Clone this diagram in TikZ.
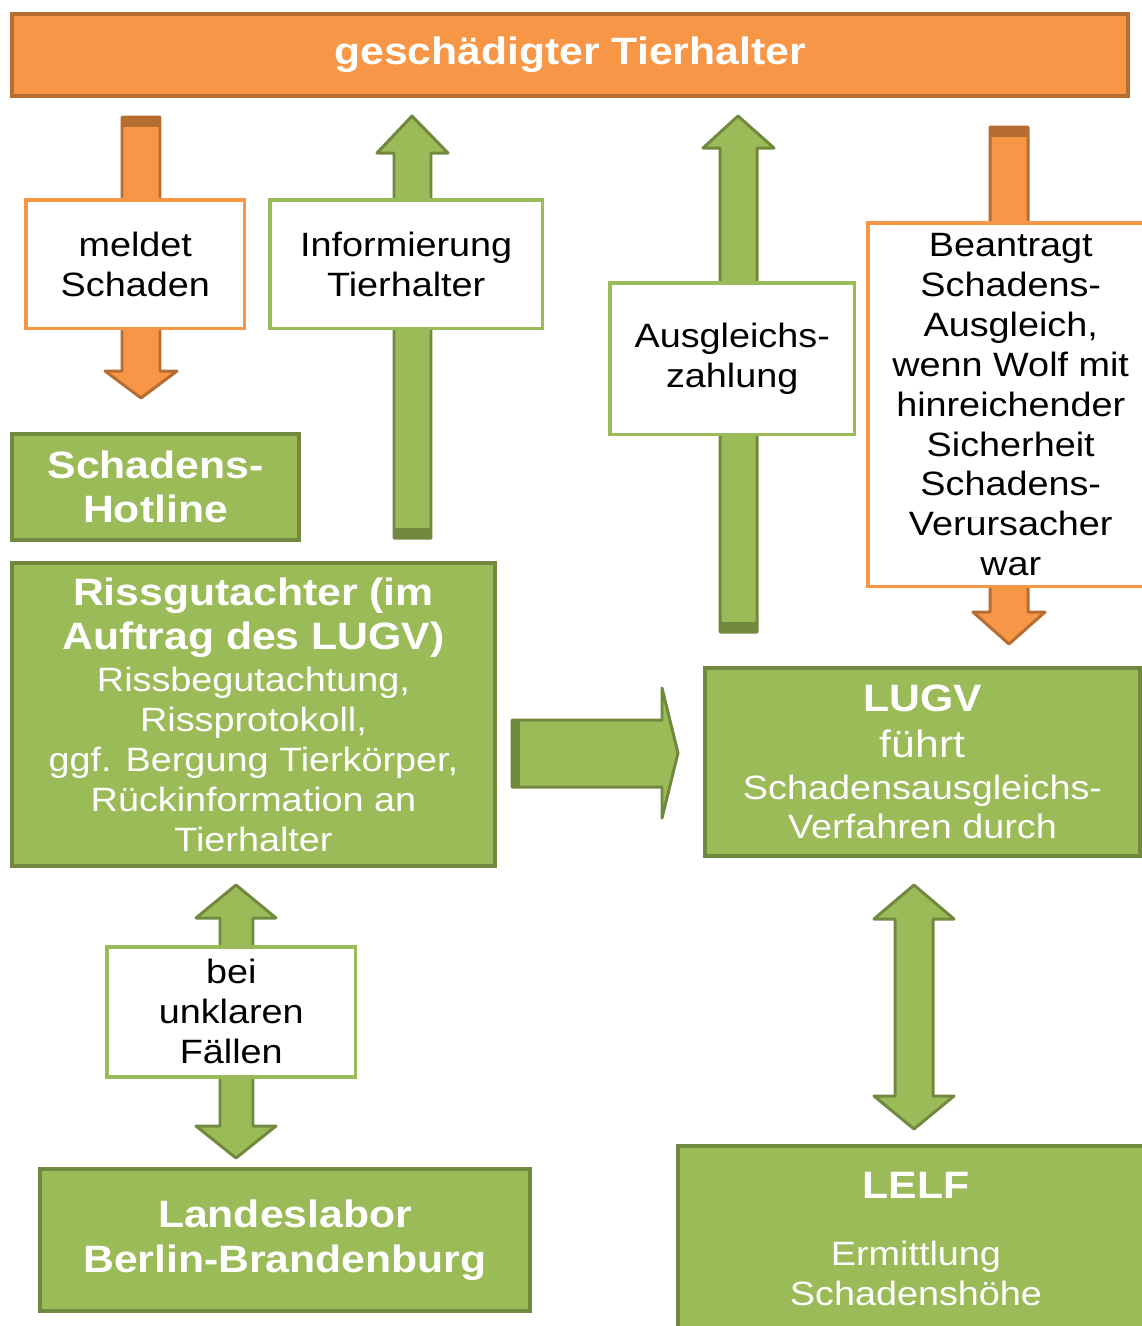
\documentclass[tikz,border=0pt]{standalone}
\usepackage{fontspec}
\setmainfont{Liberation Sans}[FakeStretch=1.12]
\usepackage{tikz}
\usetikzlibrary{positioning}

\definecolor{lugvorange}{HTML}{F79646}
\definecolor{lugvorangedark}{HTML}{B66D31}
\definecolor{lugvgreen}{HTML}{9BBB59}
\definecolor{lugvgreendark}{HTML}{71893F}

\newcommand{\regfont}{\fontsize{19.2}{22.7}\selectfont}
\newcommand{\bigfont}{\fontsize{21.7}{25.5}\selectfont\bfseries}

\tikzset{
  greenbox/.style={draw=lugvgreendark, fill=lugvgreen, line width=2.3pt, text=white,
    inner sep=0pt, align=center, anchor=north west},
  barbox/.style={draw=lugvorangedark, fill=lugvorange, line width=2.3pt, text=white,
    inner sep=0pt, align=center, anchor=north west},
  labelbox/.style={fill=white, line width=2pt, inner sep=0pt, align=center, anchor=north west},
  garrow/.style={fill=lugvgreen, draw=lugvgreendark, line width=1.7pt, line join=round},
  oarrow/.style={fill=lugvorange, draw=lugvorangedark, line width=1.7pt, line join=round},
}

\begin{document}
\begin{tikzpicture}[x=0.02cm, y=-0.02cm, font=\regfont]
\useasboundingbox (0,0) rectangle (1142,1326);

% Block arrows (drawn first, boxes sit on top)
\filldraw[oarrow] (122,117) -- (160,117) -- (160,371) -- (177,371) -- (141,398) -- (105,371) -- (122,371) -- cycle;
\fill[lugvorangedark] (122,116) rectangle (160,127);

\filldraw[garrow] (394,538) -- (394,153) -- (377,153) -- (412,116) -- (448,153) -- (431,153) -- (431,538) -- cycle;
\fill[lugvgreendark] (394,528) rectangle (431,539);

\filldraw[garrow] (720,632) -- (720,148) -- (703,148) -- (738,116) -- (774,148) -- (757,148) -- (757,632) -- cycle;
\fill[lugvgreendark] (720,622) rectangle (757,633);

\filldraw[oarrow] (990,127) -- (1028,127) -- (1028,612) -- (1045,612) -- (1009,644) -- (973,612) -- (990,612) -- cycle;
\fill[lugvorangedark] (990,126) rectangle (1028,137);

\filldraw[garrow] (512,720) -- (662,720) -- (662,688) -- (678,753) -- (662,818) -- (662,787) -- (512,787) -- cycle;
\fill[lugvgreendark] (511,720) rectangle (520,787);

\filldraw[garrow] (236,885) -- (276,918) -- (253,918) -- (253,1126) -- (276,1126) -- (236,1158)
  -- (196,1126) -- (220,1126) -- (220,918) -- (196,918) -- cycle;

\filldraw[garrow] (914,885) -- (954,919) -- (933,919) -- (933,1096) -- (954,1096) -- (914,1129)
  -- (874,1096) -- (895,1096) -- (895,919) -- (874,919) -- cycle;

% Top bar
\node[barbox, minimum width=22.32cm, minimum height=1.64cm] (tierhalter) at (10,12)
  {\bigfont geschädigter Tierhalter};

% White label boxes
\node[labelbox, draw=lugvorange, minimum width=4.38cm, minimum height=2.58cm] (meldet) at (24,198)
  {meldet\\Schaden};
\node[labelbox, draw=lugvgreen, minimum width=5.46cm, minimum height=2.58cm] (info) at (268,198)
  {Informierung\\Tierhalter};
\node[labelbox, draw=lugvgreen, minimum width=4.90cm, minimum height=3.04cm] (zahlung) at (608,281)
  {Ausgleichs-\\zahlung};
\node[labelbox, draw=lugvorange, minimum width=5.72cm, minimum height=7.28cm] (antrag) at (866,221)
  {Beantragt\\Schadens-\\Ausgleich,\\wenn Wolf mit\\hinreichender\\Sicherheit\\Schadens-\\Verursacher\\war};
\node[labelbox, draw=lugvgreen, minimum width=4.98cm, minimum height=2.60cm] (unklar) at (105,945)
  {bei\\unklaren\\Fällen};

% Green boxes
\node[greenbox, minimum width=5.74cm, minimum height=2.12cm, font=\bigfont] (hotline) at (10,432)
  {Schadens-\\[-0.4pt]Hotline};
\node[greenbox, minimum width=9.66cm, minimum height=6.06cm] (riss) at (10,561)
  {{\bigfont Rissgutachter (im}\\[2.8pt]{\bigfont Auftrag des LUGV)}\\[1.1pt]Rissbegutachtung,\\Rissprotokoll,\\ggf. Bergung Tierkörper,\\Rückinformation an\\Tierhalter};
\node[greenbox, minimum width=8.70cm, minimum height=3.76cm] (lugv) at (703,666)
  {{\bigfont LUGV}\\[3.4pt]{\fontsize{21.7}{25.5}\selectfont führt}\\[1.1pt]Schadensausgleichs-\\Verfahren durch};
\node[greenbox, minimum width=9.80cm, minimum height=2.84cm, font=\bigfont] (labor) at (38,1167)
  {Landeslabor\\Berlin-Brandenburg};
\node[greenbox, minimum width=9.52cm, minimum height=3.72cm] (lelf) at (676,1144)
  {{\bigfont LELF}\\[15.3pt]Ermittlung\\Schadenshöhe};
\end{tikzpicture}
\end{document}
